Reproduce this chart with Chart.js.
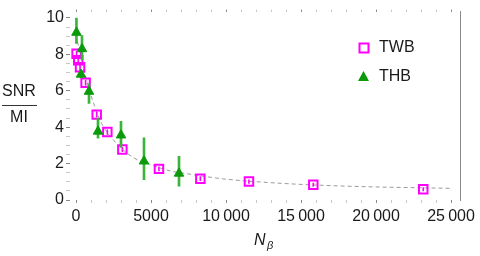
<!DOCTYPE html>
<html>
<head>
<meta charset="utf-8">
<script src="https://cdn.jsdelivr.net/npm/chart.js"></script>
<style>
  html, body { margin: 0; padding: 0; background: #fff; }
  canvas { display: block; }
</style>
</head>
<body>
<canvas id="snrChart" width="480" height="256"></canvas>
<script>
// 시리즈 이름
const seriesNames = ['TWB', 'THB'];

// TWB (open squares)
const twbN   = [40, 150, 270, 640, 1380, 2090, 3090, 5530, 8290, 11530, 15820, 23150];
const twbSnr = [8.04, 7.68, 7.29, 6.44, 4.69, 3.73, 2.77, 1.71, 1.17, 1.01, 0.84, 0.59];
const twbLo  = [7.9, 7.55, 7.15, 6.3, 4.55, 3.6, 2.65, 1.6, 1.06, 0.91, 0.75, 0.5];
const twbHi  = [8.18, 7.81, 7.43, 6.58, 4.83, 3.86, 2.89, 1.82, 1.28, 1.11, 0.93, 0.68];

// THB (triangles with error bars)
const thbN   = [30, 400, 333, 867, 1467, 3000, 4533, 6867];
const thbSnr = [9.2, 8.3, 6.9, 5.96, 3.77, 3.56, 2.13, 1.46];
const thbLo  = [8.6, 7.7, 6.7, 5.3, 3.4, 2.9, 1.12, 0.76];
const thbHi  = [9.99, 9.03, 7.1, 6.4, 4.48, 4.32, 3.41, 2.4];

// dashed fit curve
const fitN   = [100, 250, 450, 700, 1000, 1400, 1710, 2490, 3780, 4930, 6270, 7600, 9820, 13600, 18050, 25000];
const fitSnr = [8.7, 8.1, 7.4, 6.6, 5.75, 4.8, 4.2, 3.3, 2.35, 1.96, 1.6, 1.42, 1.16, 0.92, 0.76, 0.64];

// axis ticks
const xMajorTicks = [0, 5000, 10000, 15000, 20000, 25000];
const xTickLabels = ['0', '5000', '10\u2009000', '15\u2009000', '20\u2009000', '25\u2009000'];
const yMajorTicks = [0, 2, 4, 6, 8, 10];
const yTickLabels = ['0', '2', '4', '6', '8', '10'];

const X_MIN = -400, X_MAX = 25600, Y_MIN = 0, Y_MAX = 10.35;
const FONT = "'Liberation Sans', Arial, sans-serif";
const TEXT = '#1a1a1a';
const MAGENTA = '#ff00ff';
const GREEN = '#0a9a0a';
const GREEN_BAR = '#3cb43c';

function pts(xs, ys) {
  return xs.map((x, i) => ({ x: x, y: ys[i] }));
}
function bars(xs, lo, hi) {
  return xs.map((x, i) => ({ x: x, y: [lo[i], hi[i]] }));
}

// minor ticks every 1000 (x) and 0.5 (y)
const xTicks = [];
for (let v = 0; v <= 25000; v += 1000) xTicks.push(v);
const yTicks = [];
for (let v = 0; v <= 10; v += 0.5) yTicks.push(v);

function tickColor(major) {
  return ctx => (major.includes(ctx.tick && ctx.tick.value) ? '#8a8a8a' : '#c8c8c8');
}

// 축 제목, 범례 직접 그리기
const decorPlugin = {
  id: 'decor',
  afterDraw(chart) {
    const ctx = chart.ctx;
    ctx.save();
    ctx.fillStyle = TEXT;
    ctx.textAlign = 'center';
    ctx.textBaseline = 'middle';
    ctx.font = '16px ' + FONT;
    // SNR / MI
    ctx.fillText('SNR', 19, 92);
    ctx.fillText('MI', 19, 118);
    ctx.strokeStyle = '#333';
    ctx.lineWidth = 1;
    ctx.beginPath();
    ctx.moveTo(2, 105.5);
    ctx.lineTo(37, 105.5);
    ctx.stroke();
    // N_beta
    ctx.textAlign = 'left';
    ctx.font = 'italic 16px ' + FONT;
    ctx.fillText('N', 254, 241);
    ctx.font = 'italic 11px ' + FONT;
    ctx.fillText('\u03b2', 267, 246);

    // legend
    ctx.font = '16px ' + FONT;
    ctx.strokeStyle = MAGENTA;
    ctx.lineWidth = 2;
    ctx.strokeRect(359.5, 43.5, 9, 9);
    ctx.fillStyle = TEXT;
    ctx.fillText(seriesNames[0], 379, 48);
    ctx.fillStyle = GREEN;
    ctx.beginPath();
    ctx.moveTo(363.5, 71);
    ctx.lineTo(369, 81);
    ctx.lineTo(358, 81);
    ctx.closePath();
    ctx.fill();
    ctx.fillStyle = TEXT;
    ctx.fillText(seriesNames[1], 379, 77);
    ctx.restore();
  }
};

new Chart(document.getElementById('snrChart').getContext('2d'), {
  type: 'scatter',
  data: {
    datasets: [
      {
        type: 'line',
        label: 'fit',
        data: pts(fitN, fitSnr),
        borderColor: '#9a9a9a',
        borderWidth: 1,
        borderDash: [4, 3],
        pointRadius: 0,
        fill: false,
        showLine: true,
        cubicInterpolationMode: 'monotone',
        order: 5
      },
      {
        type: 'bar',
        label: 'TWB err',
        data: bars(twbN, twbLo, twbHi),
        backgroundColor: MAGENTA,
        barThickness: 1,
        grouped: false,
        order: 4
      },
      {
        label: seriesNames[0],
        data: pts(twbN, twbSnr),
        pointStyle: 'rect',
        pointRadius: 6,
        pointBorderWidth: 2,
        borderColor: MAGENTA,
        backgroundColor: 'rgba(0,0,0,0)',
        order: 3
      },
      {
        type: 'bar',
        label: 'THB err',
        data: bars(thbN, thbLo, thbHi),
        backgroundColor: GREEN_BAR,
        barThickness: 2,
        grouped: false,
        order: 2
      },
      {
        label: seriesNames[1],
        data: pts(thbN, thbSnr),
        pointStyle: 'triangle',
        pointRadius: 5.5,
        pointBorderWidth: 1,
        borderColor: GREEN,
        backgroundColor: GREEN,
        order: 1
      }
    ]
  },
  options: {
    responsive: false,
    animation: false,
    devicePixelRatio: 1,
    layout: { padding: { left: 0, right: 20, top: 0, bottom: 0 } },
    plugins: {
      legend: { display: false },
      tooltip: { enabled: false }
    },
    scales: {
      x: {
        type: 'linear',
        position: 'bottom',
        min: X_MIN,
        max: X_MAX,
        offset: false,
        afterBuildTicks: s => { s.ticks = xTicks.map(v => ({ value: v })); },
        afterFit: s => { s.height = 56; },
        ticks: {
          autoSkip: false,
          maxRotation: 0,
          padding: 4,
          color: TEXT,
          font: { family: FONT, size: 16 },
          callback: v => {
            const i = xMajorTicks.indexOf(v);
            return i >= 0 ? xTickLabels[i] : '';
          }
        },
        grid: { offset: false, drawOnChartArea: false, tickLength: 3, color: tickColor(xMajorTicks) },
        border: { display: false }
      },
      x2: {
        type: 'linear',
        position: 'top',
        min: X_MIN,
        max: X_MAX,
        afterBuildTicks: s => { s.ticks = xTicks.map(v => ({ value: v })); },
        afterFit: s => { s.height = 6; },
        ticks: { display: false },
        grid: { drawOnChartArea: false, tickLength: 2, color: tickColor(xMajorTicks) },
        border: { display: false }
      },
      y: {
        type: 'linear',
        position: 'left',
        min: Y_MIN,
        max: Y_MAX,
        afterBuildTicks: s => { s.ticks = yTicks.map(v => ({ value: v })); },
        afterFit: s => { s.width = 70; },
        ticks: {
          autoSkip: false,
          padding: 2,
          color: TEXT,
          font: { family: FONT, size: 16 },
          callback: v => {
            const i = yMajorTicks.indexOf(v);
            return i >= 0 ? yTickLabels[i] : '';
          }
        },
        grid: { drawOnChartArea: false, tickLength: 4, color: tickColor(yMajorTicks) },
        border: { display: false }
      },
      y2: {
        type: 'linear',
        position: 'right',
        min: Y_MIN,
        max: Y_MAX,
        afterFit: s => { s.width = 0; },
        ticks: { display: false },
        grid: { display: false },
        border: { display: true, color: '#8a8a8a', width: 1 }
      }
    }
  },
  plugins: [decorPlugin]
});
</script>
</body>
</html>
